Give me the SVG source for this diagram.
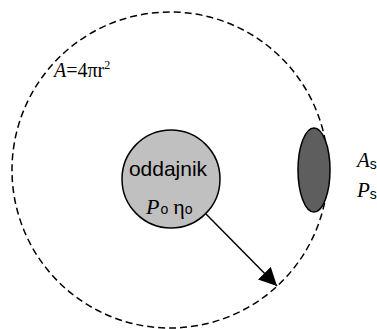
<svg xmlns="http://www.w3.org/2000/svg" width="377" height="329" viewBox="0 0 377 329">
<style>
.serif{font-family:"Liberation Serif","Times New Roman",serif;fill:#000}
.sans{font-family:"Liberation Sans",Arial,sans-serif;fill:#000}
.it{font-style:italic}
</style>
<defs>
<marker id="ah" viewBox="0 0 10 10" refX="10" refY="5" markerWidth="18" markerHeight="18" markerUnits="userSpaceOnUse" orient="auto">
<path d="M0,0 L10,5 L0,10 Z" fill="#000"/>
</marker>
</defs>
<rect width="377" height="329" fill="#fff"/>
<g id="sphere">
<circle cx="170" cy="170" r="158" fill="none" stroke="#000" stroke-width="1.5" stroke-dasharray="7,4"/>
<text class="serif" x="54" y="77" font-size="20"><tspan class="it">A</tspan>=4πr<tspan font-size="12" dy="-8">2</tspan></text>
</g>
<g id="receiver">
<ellipse cx="314" cy="170" rx="16" ry="42" fill="#5e5e5e" stroke="#000" stroke-width="1.5"/>
<text class="serif" x="357" y="167" font-size="21"><tspan class="it">A</tspan><tspan class="sans" font-size="14" dy="2">s</tspan></text>
<text class="serif" x="357" y="197" font-size="21"><tspan class="it">P</tspan><tspan class="sans" font-size="14" dy="2">s</tspan></text>
</g>
<g id="oddajnik">
<circle cx="171" cy="179" r="49" fill="#c0c0c0" stroke="#000" stroke-width="1.5"/>
<text class="sans" x="168" y="176" font-size="21" text-anchor="middle">oddajnik</text>
<text class="serif" x="146" y="214" font-size="22"><tspan class="it">P</tspan><tspan class="sans" font-size="14" dx="1">o</tspan><tspan dx="5">η</tspan><tspan class="sans" font-size="14">o</tspan></text>
</g>
<g id="connectors">
<line x1="206" y1="214" x2="277" y2="286" stroke="#000" stroke-width="1.5" marker-end="url(#ah)"/>
</g>
</svg>
